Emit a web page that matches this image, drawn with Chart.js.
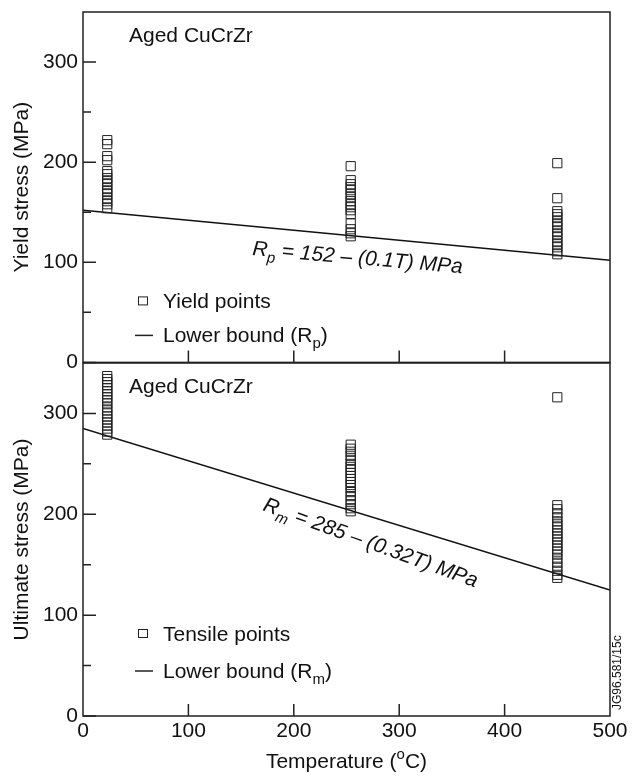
<!DOCTYPE html>
<html>
<head>
<meta charset="utf-8">
<title>Aged CuCrZr strength vs temperature</title>
<script src="https://cdn.jsdelivr.net/npm/chart.js@4.4.1/dist/chart.umd.min.js"></script>
<style>
  body { margin: 0; background: #fff; }
  #wrap { position: relative; width: 632px; height: 776px; overflow: hidden; }
  #wrap canvas { position: absolute; left: 0; }
  #yieldChart { top: -10px; }
  #tensileChart { top: 343px; }
</style>
</head>
<body>
<div id="wrap">
  <canvas id="yieldChart" width="632" height="390"></canvas>
  <canvas id="tensileChart" width="632" height="433"></canvas>
</div>
<script>
// test temperatures (°C) of the three groups of specimens
const groupTemps = [23, 254, 450];

// yield stress (MPa) per temperature group
const yieldRT = [222, 218, 206, 202, 191, 188, 184, 181, 178, 174, 171, 168, 164, 161, 158, 154];
const yield254 = [196, 182, 178, 175, 172, 168, 165, 161, 158, 155, 152, 148, 139, 133, 129, 126];
const yield450 = [199, 164, 151, 148, 145, 141, 138, 135, 131, 128, 125, 121, 118, 115, 111, 108];

// ultimate tensile stress (MPa) per temperature group
const tensileRT = [337, 334, 331, 328, 325, 322, 319, 316, 313, 310, 306, 303, 300, 297, 294, 291, 288, 285, 282, 279];
const tensile254 = [269, 265, 262, 258, 254, 250, 247, 244, 241, 238, 235, 232, 229, 226, 222, 218, 214, 210, 206, 203];
const tensile450 = [316, 209, 205, 201, 197, 193, 190, 187, 184, 181, 178, 175, 172, 169, 166, 163, 160, 156, 152, 148, 144, 140, 137];

// lower bound lines: Rp = 152 - 0.1T, Rm = 285 - 0.32T
const boundTemps = [0, 500];
const yieldBound = [152, 102];
const tensileBound = [285, 125];

// axis ticks
const tempTicks = [0, 100, 200, 300, 400, 500];
const stressTicks = [0, 100, 200, 300];
const stressMinorTicks = [50, 150, 250];

const FONT = '"Liberation Sans", Arial, Helvetica, sans-serif';
const INK = '#111';
const SIZE = 21;

function toPoints(groups) {
  const pts = [];
  groups.forEach((vals, i) => vals.forEach(v => pts.push({ x: groupTemps[i], y: v })));
  return pts;
}

// draws text runs with optional sub/superscript parts, returns the width
function richText(ctx, parts, x, y, size, style, measureOnly) {
  let cx = x;
  parts.forEach(p => {
    const small = p.sub || p.sup;
    const fs = small ? Math.round(size * 0.7) : size;
    ctx.font = (style ? style + ' ' : '') + fs + 'px ' + FONT;
    const dy = p.sub ? size * 0.28 : p.sup ? -size * 0.42 : 0;
    if (!measureOnly) ctx.fillText(p.t, cx, y + dy);
    cx += ctx.measureText(p.t).width;
  });
  return cx - x;
}

function panelDecor(cfg) {
  return {
    id: 'panelDecor',
    afterDraw(chart) {
      const { ctx, chartArea: a, scales: { x, y } } = chart;
      ctx.save();
      ctx.strokeStyle = '#222';
      ctx.lineWidth = 1.5;
      ctx.strokeRect(a.left, a.top, a.right - a.left, a.bottom - a.top);

      // inward tick marks
      ctx.beginPath();
      stressTicks.forEach(v => {
        const py = y.getPixelForValue(v);
        ctx.moveTo(a.left, py); ctx.lineTo(a.left + 13, py);
      });
      stressMinorTicks.forEach(v => {
        const py = y.getPixelForValue(v);
        ctx.moveTo(a.left, py); ctx.lineTo(a.left + 8, py);
      });
      tempTicks.slice(1, -1).forEach(v => {
        const px = x.getPixelForValue(v);
        ctx.moveTo(px, a.bottom); ctx.lineTo(px, a.bottom - 12);
      });
      ctx.stroke();

      ctx.fillStyle = INK;
      ctx.textBaseline = 'alphabetic';
      ctx.textAlign = 'left';

      // material label
      richText(ctx, [{ t: 'Aged CuCrZr' }], a.left + 46, a.top + 30, SIZE);

      // legend
      ctx.lineWidth = 1;
      ctx.strokeRect(a.left + 55.5, a.bottom - cfg.legendY[0] - 4.5, 9, 8);
      richText(ctx, [{ t: cfg.pointsLabel }], a.left + 80, a.bottom - cfg.legendY[0] + 7, SIZE);
      ctx.lineWidth = 1.5;
      ctx.beginPath();
      ctx.moveTo(a.left + 52, a.bottom - cfg.legendY[1]);
      ctx.lineTo(a.left + 70, a.bottom - cfg.legendY[1]);
      ctx.stroke();
      richText(ctx, [{ t: 'Lower bound (R' }, { t: cfg.sub, sub: true }, { t: ')' }],
        a.left + 80, a.bottom - cfg.legendY[1] + 7, SIZE);

      // equation along the bound line
      ctx.save();
      ctx.translate(a.left + cfg.eq.dx, a.top + cfg.eq.dy);
      ctx.rotate(cfg.eq.angle * Math.PI / 180);
      richText(ctx, [{ t: 'R' }, { t: cfg.sub, sub: true }, { t: cfg.eq.text }], 0, 0, SIZE, 'italic');
      ctx.restore();

      if (cfg.showXTitle) {
        const parts = [{ t: 'Temperature (' }, { t: 'o', sup: true }, { t: 'C)' }];
        const w = richText(ctx, parts, 0, 0, SIZE, '', true);
        richText(ctx, parts, (a.left + a.right) / 2 - w / 2, a.bottom + 52, SIZE);

        // figure reference tag
        ctx.save();
        ctx.translate(a.right + 8, a.bottom - 6);
        ctx.rotate(-Math.PI / 2);
        ctx.font = '12px ' + FONT;
        ctx.textBaseline = 'middle';
        ctx.fillText('JG96.581/15c', 0, 0);
        ctx.restore();
      }
      ctx.restore();
    }
  };
}

function buildPanel(canvasId, cfg) {
  return new Chart(document.getElementById(canvasId), {
    type: 'scatter',
    data: {
      datasets: [
        {
          data: toPoints(cfg.groups),
          pointStyle: 'rect',
          pointRadius: 6.5,
          pointBorderWidth: 1,
          pointBorderColor: '#222',
          pointBackgroundColor: 'rgba(0,0,0,0)'
        },
        {
          data: boundTemps.map((t, i) => ({ x: t, y: cfg.bound[i] })),
          showLine: true,
          borderColor: INK,
          borderWidth: 1.5,
          pointRadius: 0
        }
      ]
    },
    options: {
      responsive: false,
      animation: false,
      events: [],
      layout: { padding: { top: cfg.padTop, bottom: cfg.padBottom, left: 0, right: 22 } },
      plugins: { legend: { display: false }, tooltip: { enabled: false } },
      scales: {
        x: {
          type: 'linear',
          min: 0,
          max: 500,
          display: cfg.showXTitle,
          afterBuildTicks: s => { s.ticks = tempTicks.map(v => ({ value: v })); },
          afterFit: s => { s.height = cfg.showXTitle ? 60 : 0; },
          grid: { display: false, drawTicks: false },
          border: { display: false },
          ticks: { padding: 3, color: INK, font: { family: FONT, size: SIZE } }
        },
        y: {
          type: 'linear',
          min: 0,
          max: 350,
          afterBuildTicks: s => { s.ticks = stressTicks.map(v => ({ value: v })); },
          afterFit: s => { s.width = 83; },
          grid: { display: false, drawTicks: false },
          border: { display: false },
          ticks: { padding: 5, color: INK, font: { family: FONT, size: SIZE } },
          title: {
            display: true,
            text: cfg.yTitle,
            color: INK,
            font: { family: FONT, size: SIZE },
            padding: { top: 10, bottom: 0 }
          }
        }
      }
    },
    plugins: [panelDecor(cfg)]
  });
}

buildPanel('yieldChart', {
  groups: [yieldRT, yield254, yield450],
  bound: yieldBound,
  yTitle: 'Yield stress (MPa)',
  pointsLabel: 'Yield points',
  sub: 'p',
  legendY: [61, 27],
  eq: { text: ' = 152 \u2013 (0.1T) MPa', dx: 169, dy: 243, angle: 5 },
  padTop: 22,
  padBottom: 17,
  showXTitle: false
});

buildPanel('tensileChart', {
  groups: [tensileRT, tensile254, tensile450],
  bound: tensileBound,
  yTitle: 'Ultimate stress (MPa)',
  pointsLabel: 'Tensile points',
  sub: 'm',
  legendY: [82, 45],
  eq: { text: ' = 285 \u2013 (0.32T) MPa', dx: 179, dy: 147, angle: 20 },
  padTop: 20,
  padBottom: 0,
  showXTitle: true
});
</script>
</body>
</html>
